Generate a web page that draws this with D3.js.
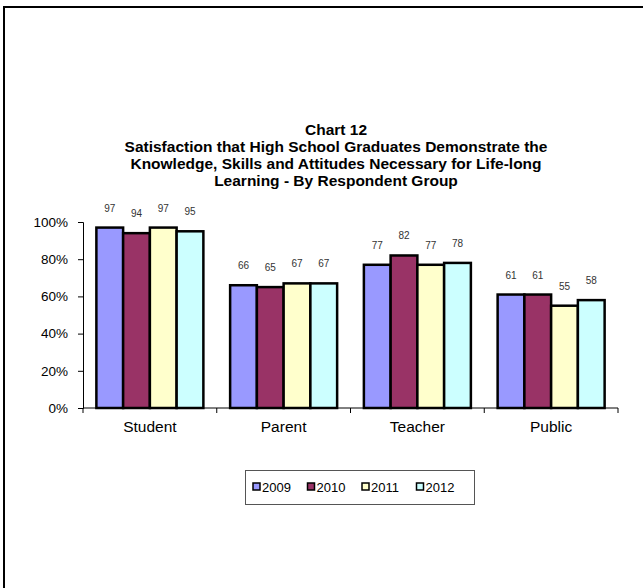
<!DOCTYPE html>
<html>
<head>
<meta charset="utf-8">
<script src="https://cdn.jsdelivr.net/npm/d3@7"></script>
<style>
  body { margin: 0; background: #fff; }
  svg text { font-family: "Liberation Sans", Arial, sans-serif; }
</style>
</head>
<body>
<div id="grafica"></div>
<script>
var categories = ["Student", "Parent", "Teacher", "Public"];
var years = ["2009", "2010", "2011", "2012"];
var values2009 = [97, 66, 77, 61];
var values2010 = [94, 65, 82, 61];
var values2011 = [97, 67, 77, 55];
var values2012 = [95, 67, 78, 58];
var yTicks = [0, 20, 40, 60, 80, 100];
var titleLines = [
  "Chart 12",
  "Satisfaction that High School Graduates Demonstrate the",
  "Knowledge, Skills and Attitudes Necessary for Life-long",
  "Learning - By Respondent Group"
];
var colors = ["#9999FF", "#993366", "#FFFFCC", "#CCFFFF"];

var series = [values2009, values2010, values2011, values2012];
var rows = [];
categories.forEach(function(c, i) {
  years.forEach(function(yr, j) {
    rows.push({cat: c, year: yr, value: series[j][i], color: colors[j]});
  });
});

var width = 643, height = 588;
var plotLeft = 83, plotRight = 618, plotTop = 222, plotBottom = 408;

var svg = d3.select("#grafica")
            .append("svg")
            .attr("width", width)
            .attr("height", height);

// outer frame (only top and left edges show)
svg.append("path")
  .attr("d", "M4,588 V7 H643")
  .attr("fill", "none")
  .attr("stroke", "#000")
  .attr("stroke-width", 2);

svg.append("g").selectAll("text")
  .data(titleLines)
  .enter()
  .append("text")
    .attr("x", 336)
    .attr("y", function(d, i) { return 135 + i * 17; })
    .attr("text-anchor", "middle")
    .style("font-size", "15.5px")
    .style("font-weight", "bold")
    .text(function(d) { return d; });

var x0 = d3.scaleBand()
           .domain(categories)
           .range([plotLeft, plotRight]);
var x1 = d3.scaleBand()
           .domain(years)
           .range([0, x0.bandwidth()])
           .paddingOuter(0.5);
var y = d3.scaleLinear()
          .domain([0, 100])
          .range([plotBottom, plotTop]);

// y axis
var yAxis = svg.append("g")
  .attr("transform", "translate(" + plotLeft + ",0)")
  .call(d3.axisLeft(y).tickValues(yTicks).tickSize(5).tickPadding(10)
          .tickFormat(function(d) { return d + "%"; }));
yAxis.select(".domain").attr("stroke", "#000");
yAxis.selectAll("line").attr("stroke", "#000");
yAxis.selectAll("text")
  .style("font-size", "13.5px")
  .attr("fill", "#000");

// x axis line + ticks between categories
svg.append("line")
  .attr("x1", plotLeft).attr("x2", plotRight)
  .attr("y1", plotBottom).attr("y2", plotBottom)
  .attr("stroke", "#000");
svg.append("g").selectAll("line")
  .data(categories.concat(["end"]))
  .enter()
  .append("line")
    .attr("x1", function(d, i) { return plotLeft + i * x0.step(); })
    .attr("x2", function(d, i) { return plotLeft + i * x0.step(); })
    .attr("y1", plotBottom)
    .attr("y2", plotBottom + 5)
    .attr("stroke", "#000");

svg.append("g").selectAll("text")
  .data(categories)
  .enter()
  .append("text")
    .attr("x", function(d) { return x0(d) + x0.bandwidth() / 2; })
    .attr("y", 432)
    .attr("text-anchor", "middle")
    .style("font-size", "15.5px")
    .text(function(d) { return d; });

// bars
svg.append("g").selectAll("rect")
  .data(rows)
  .enter()
  .append("rect")
    .attr("x", function(d) { return x0(d.cat) + x1(d.year); })
    .attr("y", function(d) { return y(d.value); })
    .attr("width", x1.bandwidth())
    .attr("height", function(d) { return plotBottom - y(d.value); })
    .attr("fill", function(d) { return d.color; })
    .attr("stroke", "#000")
    .attr("stroke-width", 2.5);

// value labels
svg.append("g").selectAll("text")
  .data(rows)
  .enter()
  .append("text")
    .attr("x", function(d) { return x0(d.cat) + x1(d.year) + x1.bandwidth() / 2; })
    .attr("y", function(d) { return y(d.value) - 16; })
    .attr("text-anchor", "middle")
    .style("font-family", "'Liberation Sans Narrow', 'Arial Narrow', sans-serif")
    .style("font-size", "10px")
    .attr("fill", "#333")
    .text(function(d) { return d.value; });

// legend
var legend = svg.append("g");
legend.append("rect")
  .attr("x", 245.5).attr("y", 470.5)
  .attr("width", 229).attr("height", 34)
  .attr("fill", "#fff")
  .attr("stroke", "#555");
var item = legend.selectAll("g.item")
  .data(years)
  .enter()
  .append("g")
    .attr("class", "item")
    .attr("transform", function(d, i) { return "translate(" + (253 + i * 54.5) + ",487)"; });
item.append("rect")
  .attr("x", 0).attr("y", -4)
  .attr("width", 7).attr("height", 7)
  .attr("fill", function(d, i) { return colors[i]; })
  .attr("stroke", "#000")
  .attr("stroke-width", 1.5);
item.append("text")
  .attr("x", 9)
  .attr("y", 4.5)
  .style("font-size", "13px")
  .text(function(d) { return d; });
</script>
</body>
</html>
